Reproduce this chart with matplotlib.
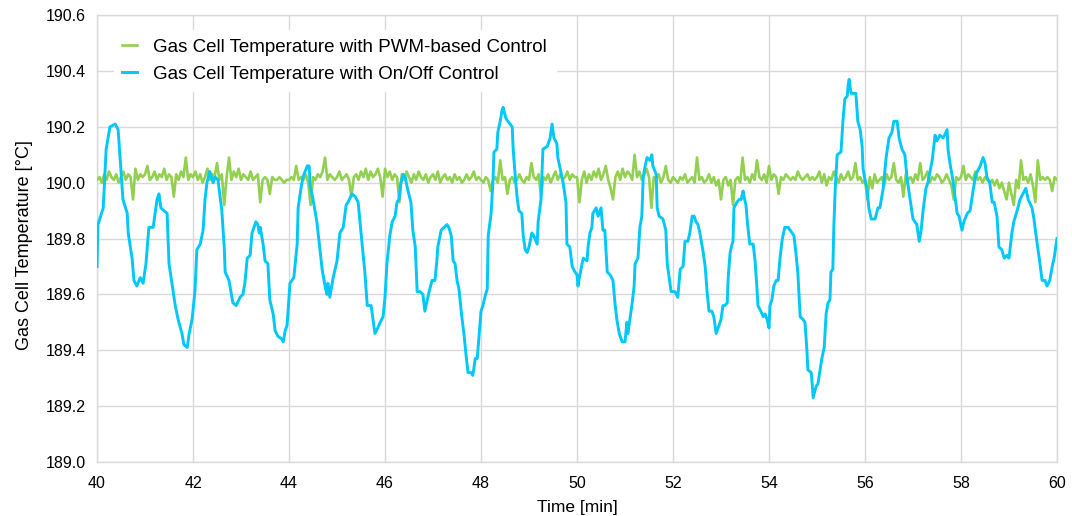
import numpy as np
import matplotlib
matplotlib.use("Agg")
import matplotlib.pyplot as plt

plt.rcParams['font.family'] = ['Liberation Sans', 'DejaVu Sans']

# PWM-based control: sampled every 0.05 min from 40 to 60 min
pwm_start = 40.0
pwm_step = 0.05
pwm_temp = [
    190.01, 190.02, 190.00, 190.03, 190.01, 190.04, 190.02, 190.01, 190.03, 190.00, 190.02, 190.04, 190.01, 190.03, 190.02, 189.94, 190.05, 190.01, 190.03, 190.02,
    190.03, 190.06, 190.01, 190.02, 190.04, 190.01, 190.03, 190.02, 190.05, 190.01, 190.03, 190.02, 189.95, 190.03, 190.01, 190.04, 190.02, 190.09, 190.01, 190.03,
    190.02, 190.04, 190.01, 190.03, 190.00, 190.02, 190.05, 190.01, 190.03, 190.02, 190.07, 190.01, 190.03, 189.92, 190.02, 190.09, 190.01, 190.04, 190.02, 190.05,
    190.01, 190.03, 190.02, 190.01, 190.04, 190.01, 190.02, 190.03, 189.93, 190.01, 190.02, 190.01, 189.96, 190.02, 190.01, 190.01, 190.02, 190.01, 190.00, 190.01,
    190.01, 190.02, 190.01, 190.06, 190.01, 190.02, 190.01, 190.03, 190.00, 189.92, 190.02, 190.01, 190.03, 190.02, 190.04, 190.09, 190.01, 190.03, 190.02, 190.01,
    190.02, 190.04, 190.01, 190.02, 190.03, 190.01, 189.95, 190.02, 190.03, 190.01, 190.04, 190.02, 190.05, 190.01, 190.04, 190.02, 190.03, 190.05, 190.02, 189.95,
    190.05, 190.02, 190.04, 190.01, 190.03, 190.02, 189.93, 190.03, 190.01, 190.04, 190.02, 190.00, 190.03, 190.01, 190.04, 190.02, 190.01, 190.03, 190.00, 190.02,
    190.03, 190.01, 190.04, 190.00, 190.02, 190.03, 190.01, 190.02, 190.00, 190.03, 190.01, 190.02, 190.00, 190.01, 190.03, 190.01, 190.02, 190.04, 190.01, 190.02,
    190.01, 190.00, 190.02, 190.01, 189.97, 190.01, 190.02, 190.00, 190.08, 190.01, 190.02, 189.96, 190.01, 190.02, 190.00, 190.01, 190.03, 190.01, 190.00, 190.02,
    190.01, 190.07, 190.02, 190.01, 190.03, 189.95, 190.02, 190.01, 190.03, 190.00, 190.02, 190.04, 190.01, 190.03, 190.01, 190.02, 190.04, 190.01, 190.03, 190.02,
    190.02, 189.93, 190.01, 190.04, 190.00, 190.03, 190.01, 190.04, 190.02, 190.05, 190.01, 190.03, 190.06, 190.01, 189.98, 189.94, 190.02, 190.04, 190.01, 190.05,
    190.02, 190.04, 190.03, 190.01, 190.10, 190.02, 190.04, 190.01, 190.03, 190.05, 190.02, 189.91, 190.02, 190.01, 190.03, 190.00, 190.02, 190.06, 190.01, 190.00,
    190.02, 190.01, 190.00, 190.02, 190.01, 190.03, 190.00, 190.01, 190.02, 190.00, 190.09, 190.01, 190.02, 190.00, 190.01, 190.03, 190.00, 190.02, 189.99, 190.01,
    189.94, 190.01, 190.02, 189.99, 190.01, 189.92, 190.01, 190.02, 190.00, 190.09, 190.01, 190.02, 190.00, 190.03, 190.01, 190.08, 190.02, 190.01, 190.03, 190.00,
    190.06, 190.01, 190.03, 190.02, 189.96, 190.02, 190.01, 190.03, 190.02, 190.01, 190.02, 190.01, 190.04, 190.02, 190.01, 190.02, 190.03, 190.01, 190.02, 190.01,
    190.02, 190.04, 190.00, 190.03, 189.99, 190.02, 190.01, 190.04, 190.02, 190.00, 190.03, 190.01, 190.02, 190.04, 190.01, 190.02, 190.07, 190.01, 190.02, 190.00,
    190.01, 189.94, 190.02, 189.98, 190.03, 190.00, 190.01, 190.02, 189.99, 190.03, 190.01, 190.02, 190.07, 190.01, 190.00, 190.02, 189.95, 190.03, 190.01, 190.02,
    190.00, 190.03, 190.01, 190.07, 190.01, 190.02, 190.04, 190.00, 190.02, 190.01, 190.03, 190.02, 190.00, 190.01, 190.03, 190.01, 189.99, 189.94, 190.02, 190.01,
    190.02, 190.06, 190.01, 190.03, 190.02, 190.01, 190.04, 190.01, 190.02, 190.00, 190.02, 190.01, 190.00, 190.01, 189.99, 190.01, 189.98, 190.00, 189.97, 189.94,
    190.00, 189.96, 189.92, 190.01, 189.98, 190.08, 190.01, 190.02, 190.00, 190.03, 189.99, 189.93, 190.08, 190.01, 190.02, 190.01, 190.02, 190.01, 189.97, 190.02,
    190.01,
]

# On/Off control: time [min] and temperature [°C]
onoff_time = [
    40.00, 40.02, 40.13, 40.19, 40.27, 40.38, 40.44, 40.48, 40.54, 40.63, 40.65, 40.73, 40.77, 40.83, 40.90, 40.96,
    41.02, 41.08, 41.17, 41.25, 41.29, 41.33, 41.46, 41.50, 41.63, 41.69, 41.77, 41.81, 41.88, 41.92, 41.98,
    42.04, 42.08, 42.15, 42.21, 42.25, 42.29, 42.35, 42.42, 42.46, 42.52, 42.60, 42.65, 42.67, 42.75, 42.83, 42.90, 42.98,
    43.04, 43.08, 43.13, 43.19, 43.23, 43.27, 43.31, 43.35, 43.38, 43.40, 43.46, 43.50, 43.56, 43.60, 43.67, 43.71, 43.77, 43.85, 43.88, 43.92, 43.96, 43.98,
    44.02, 44.10, 44.17, 44.19, 44.25, 44.29, 44.38, 44.42, 44.44, 44.50, 44.58, 44.65, 44.69, 44.75, 44.79, 44.81, 44.85, 44.92,
    45.00, 45.06, 45.13, 45.19, 45.23, 45.31, 45.38, 45.44, 45.50, 45.54, 45.58, 45.63, 45.71, 45.75, 45.79, 45.85, 45.90, 45.96,
    46.00, 46.04, 46.10, 46.15, 46.21, 46.25, 46.29, 46.33, 46.38, 46.42, 46.48, 46.54, 46.58, 46.63, 46.67, 46.73, 46.79, 46.83, 46.88, 46.92, 46.98,
    47.04, 47.08, 47.10, 47.17, 47.23, 47.29, 47.33, 47.38, 47.42, 47.46, 47.50, 47.54, 47.60, 47.65, 47.69, 47.73, 47.79, 47.83, 47.88, 47.92, 47.94,
    48.00, 48.04, 48.08, 48.13, 48.15, 48.21, 48.25, 48.27, 48.33, 48.35, 48.40, 48.44, 48.46, 48.52, 48.56, 48.65, 48.67, 48.71, 48.75, 48.79, 48.85, 48.88, 48.92, 48.96,
    49.00, 49.06, 49.10, 49.17, 49.19, 49.25, 49.29, 49.38, 49.44, 49.48, 49.52, 49.58, 49.60, 49.65, 49.71, 49.77, 49.79, 49.85, 49.90, 49.96,
    50.00, 50.02, 50.06, 50.13, 50.21, 50.23, 50.27, 50.31, 50.33, 50.40, 50.44, 50.50, 50.54, 50.58, 50.63, 50.69, 50.75, 50.79, 50.83, 50.88, 50.94,
    51.00, 51.04, 51.06, 51.10, 51.15, 51.19, 51.21, 51.27, 51.31, 51.35, 51.38, 51.42, 51.46, 51.52, 51.56, 51.58, 51.65, 51.67, 51.71, 51.79, 51.85, 51.88, 51.92, 51.96,
    52.04, 52.10, 52.15, 52.21, 52.25, 52.31, 52.35, 52.40, 52.44, 52.48, 52.52, 52.56, 52.63, 52.67, 52.71, 52.75, 52.81, 52.85, 52.90, 52.94,
    53.00, 53.04, 53.08, 53.13, 53.15, 53.19, 53.23, 53.25, 53.27, 53.33, 53.38, 53.42, 53.46, 53.48, 53.52, 53.56, 53.60, 53.67, 53.71, 53.75, 53.77, 53.83, 53.88, 53.92, 53.96,
    54.00, 54.02, 54.06, 54.10, 54.15, 54.19, 54.23, 54.27, 54.29, 54.33, 54.40, 54.48, 54.52, 54.56, 54.60, 54.65, 54.71, 54.75, 54.79, 54.81, 54.88, 54.90, 54.92, 54.98,
    55.02, 55.10, 55.15, 55.19, 55.23, 55.27, 55.29, 55.33, 55.35, 55.38, 55.42, 55.50, 55.54, 55.58, 55.63, 55.65, 55.67, 55.71, 55.75, 55.81, 55.85, 55.90, 55.94, 55.96,
    56.00, 56.04, 56.08, 56.13, 56.21, 56.27, 56.31, 56.38, 56.44, 56.50, 56.56, 56.60, 56.67, 56.71, 56.77, 56.83, 56.88, 56.94,
    57.00, 57.08, 57.13, 57.17, 57.21, 57.27, 57.31, 57.40, 57.46, 57.50, 57.56, 57.63, 57.71, 57.73, 57.77, 57.83, 57.92, 57.96,
    58.02, 58.06, 58.13, 58.19, 58.25, 58.31, 58.40, 58.46, 58.50, 58.54, 58.60, 58.65, 58.69, 58.75, 58.79, 58.85, 58.90, 58.96,
    59.00, 59.06, 59.10, 59.17, 59.23, 59.29, 59.35, 59.40, 59.48, 59.52, 59.58, 59.63, 59.69, 59.75, 59.79, 59.85, 59.90, 59.94, 60.00,
]
onoff_temp = [
    189.70, 189.85, 189.91, 190.12, 190.20, 190.21, 190.19, 190.09, 189.94, 189.89, 189.82, 189.73, 189.65, 189.63, 189.66, 189.64,
    189.71, 189.84, 189.84, 189.94, 189.96, 189.91, 189.89, 189.71, 189.56, 189.51, 189.46, 189.42, 189.41, 189.46, 189.51,
    189.61, 189.76, 189.78, 189.83, 189.94, 190.00, 190.04, 190.00, 190.02, 190.01, 189.90, 189.77, 189.68, 189.65, 189.57, 189.56, 189.59,
    189.60, 189.64, 189.73, 189.74, 189.82, 189.84, 189.86, 189.85, 189.82, 189.84, 189.78, 189.72, 189.71, 189.58, 189.53, 189.47, 189.45, 189.44, 189.43, 189.47, 189.49, 189.54,
    189.64, 189.66, 189.78, 189.91, 189.98, 190.02, 190.06, 190.06, 189.99, 189.94, 189.86, 189.75, 189.69, 189.63, 189.60, 189.64, 189.59, 189.66,
    189.72, 189.82, 189.84, 189.92, 189.93, 189.96, 189.95, 189.93, 189.82, 189.75, 189.68, 189.56, 189.56, 189.51, 189.46, 189.48, 189.50, 189.52,
    189.59, 189.71, 189.81, 189.86, 189.88, 189.93, 189.94, 190.00, 190.03, 190.02, 189.97, 189.93, 189.83, 189.77, 189.61, 189.61, 189.60, 189.54, 189.58, 189.61, 189.65,
    189.65, 189.72, 189.77, 189.83, 189.84, 189.85, 189.84, 189.81, 189.72, 189.71, 189.65, 189.62, 189.52, 189.45, 189.38, 189.32, 189.32, 189.31, 189.37, 189.37, 189.41,
    189.54, 189.56, 189.59, 189.62, 189.81, 189.89, 190.01, 190.11, 190.12, 190.18, 190.22, 190.26, 190.27, 190.23, 190.22, 190.20, 190.12, 190.03, 189.95, 189.90, 189.89, 189.81, 189.76, 189.75,
    189.77, 189.82, 189.81, 189.78, 189.86, 189.94, 190.12, 190.13, 190.16, 190.21, 190.16, 190.14, 190.09, 190.05, 190.00, 189.93, 189.78, 189.77, 189.70, 189.68,
    189.67, 189.63, 189.67, 189.73, 189.72, 189.77, 189.82, 189.84, 189.89, 189.91, 189.88, 189.91, 189.83, 189.83, 189.68, 189.67, 189.65, 189.57, 189.51, 189.46, 189.43,
    189.43, 189.50, 189.46, 189.51, 189.57, 189.63, 189.71, 189.73, 189.84, 189.88, 190.02, 190.06, 190.09, 190.08, 190.10, 190.06, 190.03, 189.91, 189.88, 189.87, 189.83, 189.71, 189.66, 189.61,
    189.61, 189.59, 189.69, 189.70, 189.79, 189.79, 189.82, 189.88, 189.88, 189.86, 189.85, 189.82, 189.75, 189.70, 189.61, 189.54, 189.54, 189.52, 189.46, 189.48,
    189.51, 189.56, 189.56, 189.57, 189.66, 189.75, 189.78, 189.79, 189.91, 189.93, 189.94, 189.94, 189.97, 189.95, 189.92, 189.84, 189.78, 189.78, 189.72, 189.62, 189.56, 189.54, 189.52, 189.53, 189.51,
    189.48, 189.56, 189.58, 189.63, 189.65, 189.65, 189.73, 189.79, 189.81, 189.84, 189.84, 189.82, 189.81, 189.75, 189.68, 189.52, 189.51, 189.50, 189.40, 189.33, 189.32, 189.28, 189.23, 189.27,
    189.28, 189.37, 189.41, 189.53, 189.57, 189.58, 189.68, 189.69, 189.84, 189.98, 190.10, 190.11, 190.22, 190.30, 190.31, 190.35, 190.37, 190.32, 190.32, 190.32, 190.22, 190.19, 190.13, 190.05,
    190.01, 189.98, 189.91, 189.87, 189.87, 189.91, 189.91, 189.98, 190.09, 190.16, 190.18, 190.22, 190.22, 190.16, 190.12, 190.10, 190.01, 189.94,
    189.87, 189.85, 189.79, 189.83, 189.90, 189.98, 190.00, 190.08, 190.17, 190.15, 190.17, 190.16, 190.19, 190.12, 190.07, 190.01, 189.89, 189.88,
    189.83, 189.86, 189.89, 189.90, 189.97, 190.03, 190.06, 190.09, 190.07, 190.02, 190.00, 189.93, 189.93, 189.88, 189.77, 189.76, 189.73, 189.74,
    189.73, 189.82, 189.86, 189.90, 189.94, 189.96, 189.98, 189.94, 189.91, 189.87, 189.79, 189.73, 189.65, 189.65, 189.63, 189.65, 189.70, 189.73, 189.80,
]

x_ticks = [40, 42, 44, 46, 48, 50, 52, 54, 56, 58, 60]
y_ticks = [189.0, 189.2, 189.4, 189.6, 189.8, 190.0, 190.2, 190.4, 190.6]

label_pwm = "Gas Cell Temperature with PWM-based Control"
label_onoff = "Gas Cell Temperature with On/Off Control"

green = "#92D050"
blue = "#00C8F8"
grid_c = "#D9D9D9"

pwm_time = pwm_start + pwm_step * np.arange(len(pwm_temp))

fig = plt.figure(figsize=(10.72, 5.16), dpi=100)
ax = fig.add_axes([0.0905, 0.1047, 0.8955, 0.866])

ax.plot(pwm_time, pwm_temp, color=green, lw=1.9, label=label_pwm, zorder=3)
ax.plot(onoff_time, onoff_temp, color=blue, lw=2.1, label=label_onoff, zorder=4)

ax.set_xlim(40, 60)
ax.set_ylim(189.0, 190.6)
ax.set_xticks(x_ticks)
ax.set_yticks(y_ticks)
ax.set_xticklabels([str(v) for v in x_ticks])
ax.set_yticklabels([f"{v:.1f}" for v in y_ticks])
ax.tick_params(axis="y", length=0, labelsize=11.5, colors="#000000", pad=8)
ax.tick_params(axis="x", length=0, labelsize=11.5, colors="#000000", pad=10)
ax.grid(True, color=grid_c, lw=1.0, zorder=0)
for s in ax.spines.values():
    s.set_color(grid_c)
    s.set_linewidth(1.0)

ax.set_xlabel("Time [min]", fontsize=12.5)
ax.set_ylabel("Gas Cell Temperature [°C]", fontsize=13)
ax.xaxis.set_label_coords(0.5, -0.084)
ax.yaxis.set_label_coords(-0.067, 0.485)

leg = ax.legend(loc="upper left", bbox_to_anchor=(0.0177, 0.966), fontsize=13.5,
                frameon=True, fancybox=False, framealpha=1.0, edgecolor="white",
                handlelength=0.8, handletextpad=0.85, labelspacing=0.52,
                borderpad=0.45, borderaxespad=0.0)
leg.set_zorder(5)

fig.savefig("out.png", dpi=100)
